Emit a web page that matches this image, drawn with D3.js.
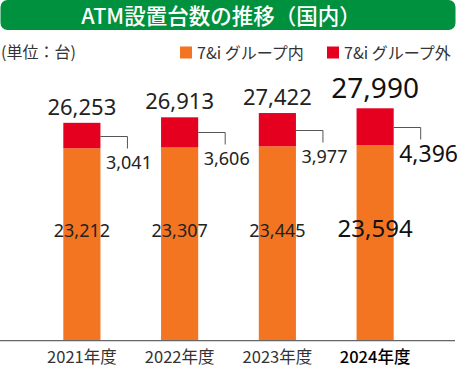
<!DOCTYPE html>
<html>
<head>
<meta charset="utf-8">
<script src="https://cdn.jsdelivr.net/npm/d3@7"></script>
<style>
  body { margin: 0; background: #fff; }
  svg { display: block; font-family: "Noto Sans", "Noto Sans CJK JP", sans-serif; }
</style>
</head>
<body>
<div id="chart"></div>
<script>
const years = ['2021年度', '2022年度', '2023年度', '2024年度']
const inside = [23212, 23307, 23445, 23594]   // 7&iグループ内
const outside = [3041, 3606, 3977, 4396]      // 7&iグループ外
const totals = [26253, 26913, 27422, 27990]
const seriesNames = ['7&i グループ内', '7&i グループ外']

const W = 460
const H = 367
const colors = { inside: '#F47521', outside: '#E60020', green: '#00913F' }

const svg = d3.select('#chart').append('svg')
  .attr('width', W)
  .attr('height', H)

// ---------- Title banner ----------
svg.append('rect')
  .attr('x', 0.5).attr('y', 0)
  .attr('width', 455).attr('height', 30)
  .attr('rx', 7)
  .attr('fill', colors.green)

svg.append('text')
  .attr('x', 221).attr('y', 24)
  .attr('text-anchor', 'middle')
  .attr('fill', '#fff')
  .attr('font-size', 21.5)
  .attr('font-weight', 500)
  .attr('font-family', '"Noto Sans CJK JP", sans-serif')
  .text('ATM設置台数の推移（国内）')

// unit
svg.append('text')
  .attr('x', 1).attr('y', 58)
  .attr('fill', '#333')
  .attr('font-size', 16)
  .attr('font-family', '"Noto Sans CJK JP", sans-serif')
  .text('(単位：台)')

// ---------- Legend ----------
const legend = svg.append('g')
  .selectAll('g')
  .data(seriesNames)
  .join('g')
  .attr('transform', (_, i) => `translate(${i === 0 ? 180 : 327},0)`)

legend.append('rect')
  .attr('x', 0).attr('y', 46.5)
  .attr('width', 12).attr('height', 12)
  .attr('fill', (_, i) => i === 0 ? colors.inside : colors.outside)

legend.append('text')
  .attr('x', 17).attr('y', 58.5)
  .attr('fill', '#333')
  .attr('font-size', 16)
  .attr('font-family', '"Noto Sans CJK JP", sans-serif')
  .text(d => d)

// ---------- Scales ----------
const x = d3.scaleBand()
  .domain(years)
  .range([33, 424])
  .paddingInner(0.62)
  .paddingOuter(0.31)

// the baseline is not quite zero in the original
const y = d3.scaleLinear()
  .domain([225, 28000])
  .range([340.7, 108.2])

const rows = years.map((yr, i) => ({
  year: yr, inside: inside[i], outside: outside[i], total: totals[i], last: i === years.length - 1
}))

// ---------- Bars ----------
const bars = svg.append('g')
  .selectAll('g')
  .data(rows)
  .join('g')

bars.append('rect')
  .attr('x', d => x(d.year))
  .attr('y', d => y(d.inside))
  .attr('width', x.bandwidth())
  .attr('height', d => y.range()[0] - y(d.inside))
  .attr('fill', colors.inside)

bars.append('rect')
  .attr('x', d => x(d.year))
  .attr('y', d => y(d.inside + d.outside))
  .attr('width', x.bandwidth())
  .attr('height', d => y(d.inside) - y(d.inside + d.outside))
  .attr('fill', colors.outside)

// connector from red segment to its label
bars.append('path')
  .attr('fill', 'none')
  .attr('stroke', '#555')
  .attr('stroke-width', 1)
  .attr('d', d => {
    const x0 = x(d.year) + x.bandwidth()
    const cy = Math.round(y(d.inside + d.outside / 2)) + 0.5
    return `M${x0},${cy}H${x0 + 27}V${cy + 12}`
  })

// red values
bars.append('text')
  .attr('x', d => x(d.year) + x.bandwidth() + 5.5)
  .attr('y', d => y(d.inside + d.outside / 2) + (d.last ? 35 : 33))
  .attr('font-size', d => d.last ? 23 : 18)
  .attr('fill', d => d.last ? '#111' : '#222')
  .text(d => d3.format(',')(d.outside))

// totals on top
bars.append('text')
  .attr('x', d => x(d.year) + x.bandwidth() / 2)
  .attr('y', d => y(d.total) - (d.last ? 10 : 8))
  .attr('text-anchor', 'middle')
  .attr('font-size', d => d.last ? 28 : 22)
  .attr('fill', d => d.last ? '#111' : '#222')
  .text(d => d3.format(',')(d.total))

// orange values inside bars
bars.append('text')
  .attr('x', d => x(d.year) + x.bandwidth() / 2)
  .attr('y', 237)
  .attr('text-anchor', 'middle')
  .attr('font-size', d => d.last ? 24 : 18)
  .attr('fill', d => d.last ? '#111' : '#222')
  .text(d => d3.format(',')(d.inside))

// ---------- Axis ----------
svg.append('line')
  .attr('x1', 0).attr('x2', 455)
  .attr('y1', 340.7).attr('y2', 340.7)
  .attr('stroke', '#666')
  .attr('stroke-width', 1.2)

const xAxis = svg.append('g')
  .attr('transform', 'translate(0,341)')
  .call(d3.axisBottom(x).tickSize(0).tickPadding(0))
  .call(ax => ax.select('.domain').remove())

xAxis.selectAll('text')
  .attr('y', 22)
  .attr('dy', null)
  .attr('font-size', 16.5)
  .attr('font-family', '"Noto Sans CJK JP", sans-serif')
  .attr('fill', (d, i) => i === years.length - 1 ? '#000' : '#333')
  .attr('font-weight', (d, i) => i === years.length - 1 ? 500 : 400)
</script>
</body>
</html>
